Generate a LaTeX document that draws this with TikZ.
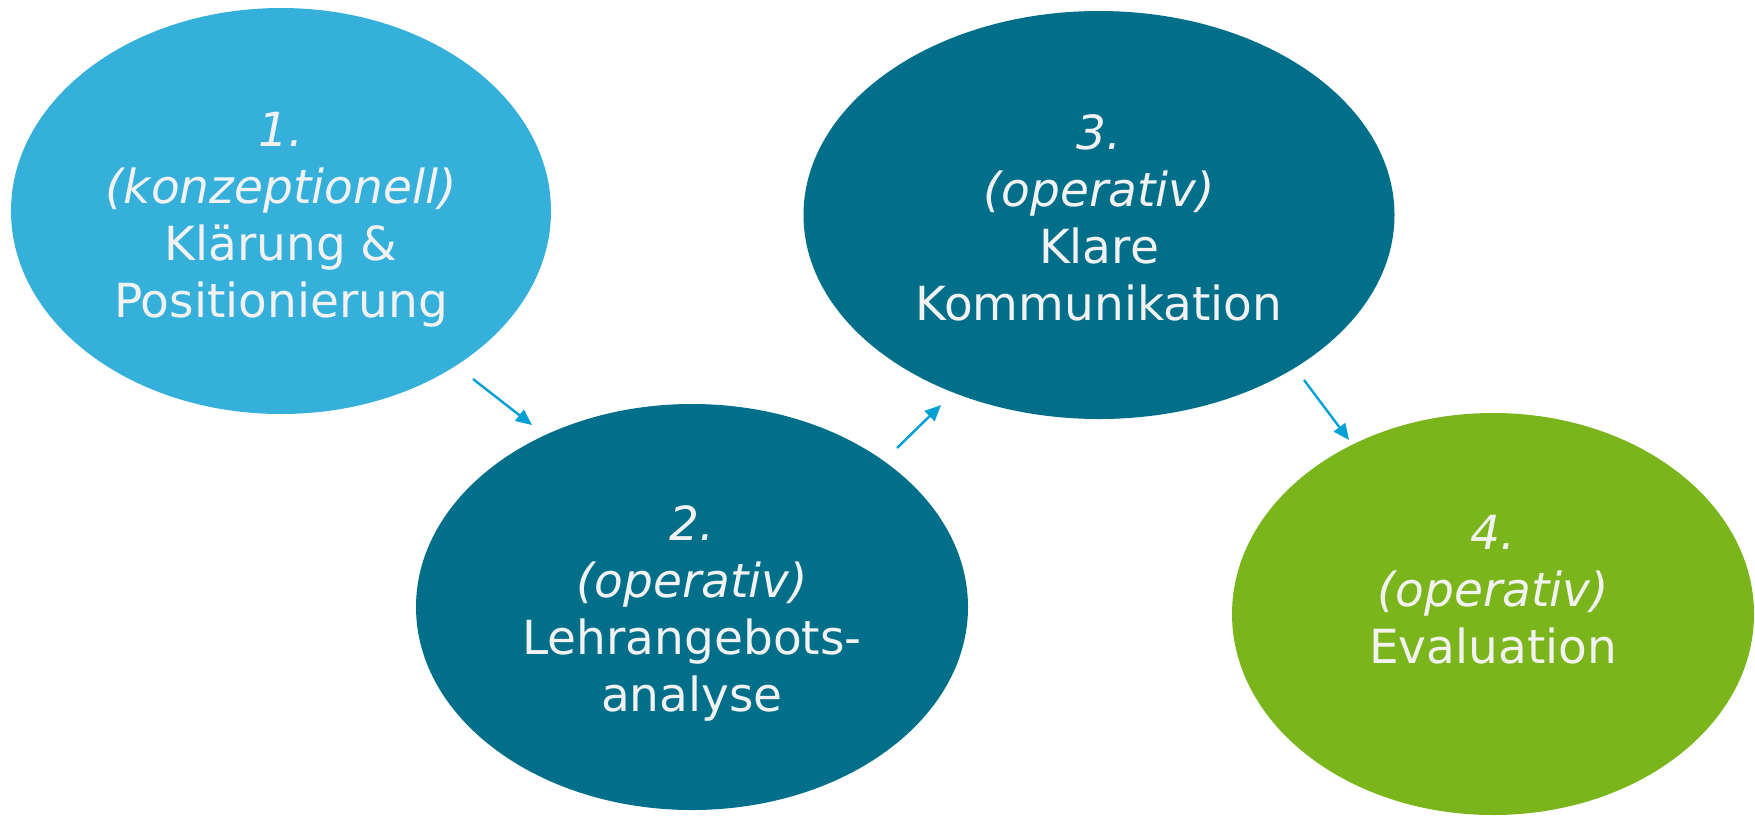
\documentclass[tikz,border=0pt]{standalone}
\usepackage{fontspec}
\setmainfont{DejaVu Sans}
\usetikzlibrary{shapes.geometric,arrows.meta}
\definecolor{lightblue}{HTML}{34B0DA}
\definecolor{petrol}{HTML}{016F8A}
\definecolor{leafgreen}{HTML}{7AB51B}
\definecolor{arrowblue}{HTML}{009FD4}
\definecolor{paletext}{HTML}{F2F2F2}
\tikzset{
  blob/.style={ellipse, draw=none, inner sep=0pt},
  steptext/.style={text=paletext, align=center, inner sep=0pt,
    font=\fontsize{47pt}{57pt}\selectfont},
  flow/.style={draw=arrowblue, line width=2.4pt,
    -{Triangle[length=16pt,width=14pt]}}
}
\begin{document}
\begin{tikzpicture}[x=1pt,y=-1pt]
\useasboundingbox (0,0) rectangle (1755,815);

% phase ellipses
\node[blob, fill=lightblue, minimum width=540pt, minimum height=406pt] (e1) at (281,211) {};
\node[blob, fill=petrol,    minimum width=552pt, minimum height=406pt] (e2) at (692,607) {};
\node[blob, fill=petrol,    minimum width=591pt, minimum height=408pt] (e3) at (1099,215) {};
\node[blob, fill=leafgreen, minimum width=522pt, minimum height=402pt] (e4) at (1493,614) {};

% phase labels
\node[steptext] (t1) at (281,220) {\textit{1.}\\\textit{(konzeptionell)}\\Klärung \&\\Positionierung};
\node[steptext] (t2) at (692,613) {\textit{2.}\\\textit{(operativ)}\\Lehrangebots-\\analyse};
\node[steptext] (t3) at (1099,218) {\textit{3.}\\\textit{(operativ)}\\Klare\\Kommunikation};
\node[steptext] (t4) at (1493,590) {\textit{4.}\\\textit{(operativ)}\\Evaluation};

% connector end points between the ellipses
\coordinate (a1s) at (473,379);
\coordinate (a1e) at (532,425);
\coordinate (a2s) at (897,448);
\coordinate (a2e) at (941,405);
\coordinate (a3s) at (1304,380);
\coordinate (a3e) at (1349,440);

\draw[flow] (a1s) -- (a1e);
\draw[flow] (a2s) -- (a2e);
\draw[flow] (a3s) -- (a3e);
\end{tikzpicture}
\end{document}
